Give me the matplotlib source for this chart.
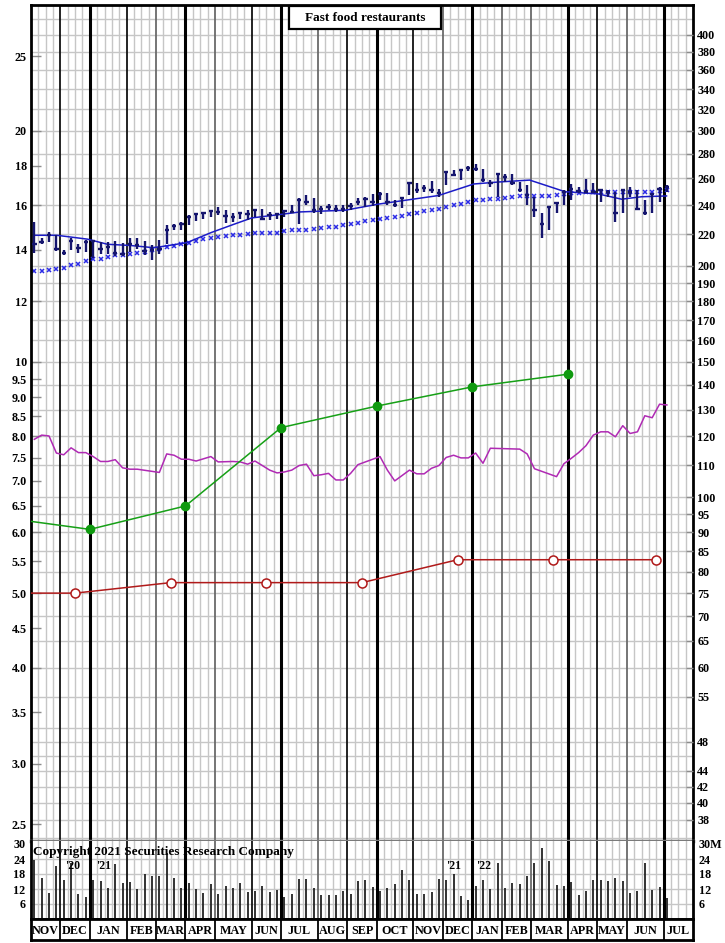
import numpy as np
import matplotlib
matplotlib.use("Agg")
import matplotlib.pyplot as plt
from matplotlib.patches import Rectangle
from matplotlib.ticker import NullLocator

plt.rcParams['font.family'] = ['Liberation Serif', 'DejaVu Serif']
plt.rcParams['font.weight'] = 'bold'

# weekly price bars (left scale)
price_high = [15.22, 14.51, 14.76, 14.62, 13.98, 14.48, 14.26, 14.41, 14.41, 14.33,
              14.33, 14.37, 14.28, 14.48, 14.48, 14.37, 14.19, 14.41, 15.07, 15.14,
              15.22, 15.53, 15.63, 15.68, 15.79, 15.89, 15.79, 15.61, 15.68, 15.76,
              15.84, 15.84, 15.68, 15.61, 15.76, 16.00, 16.33, 16.49, 16.33, 15.95,
              16.08, 16.00, 16.00, 16.11, 16.33, 16.39, 16.57, 16.66, 16.62, 16.24,
              16.39, 17.16, 17.08, 16.99, 17.19, 16.82, 17.72, 17.80, 17.83, 18.01,
              18.10, 17.81, 17.25, 17.60, 17.57, 17.57, 17.16, 16.99, 16.41, 15.61,
              15.95, 16.16, 16.77, 17.04, 16.90, 17.33, 17.10, 16.82, 16.74, 16.66,
              16.82, 16.90, 16.74, 16.24, 16.61, 16.90, 16.99]
price_low = [13.85, 14.25, 14.33, 13.95, 13.77, 13.98, 13.86, 13.91, 13.65, 13.84,
             13.84, 13.73, 13.73, 13.91, 14.05, 13.77, 13.57, 13.84, 14.26, 14.84,
             14.87, 15.07, 15.26, 15.37, 15.45, 15.53, 15.17, 15.22, 15.37, 15.30,
             15.45, 15.30, 15.30, 15.33, 15.45, 15.63, 15.14, 16.00, 15.61, 15.57,
             15.76, 15.68, 15.68, 15.76, 16.00, 15.90, 15.95, 16.24, 16.00, 15.90,
             15.86, 16.49, 16.62, 16.66, 16.58, 16.41, 16.99, 17.44, 17.25, 17.74,
             17.73, 17.16, 16.90, 16.40, 17.16, 16.99, 16.66, 16.00, 15.45, 14.52,
             14.84, 15.61, 16.00, 16.24, 16.58, 16.58, 16.58, 16.16, 16.41, 15.22,
             15.61, 16.41, 15.84, 15.53, 15.61, 16.16, 16.66]
price_close = [14.23, 14.32, 14.65, 14.05, 13.88, 14.36, 14.09, 14.33, 14.36, 14.02,
               14.12, 13.86, 13.84, 14.26, 14.19, 13.96, 13.98, 14.05, 14.84, 15.04,
               15.12, 15.45, 15.57, 15.63, 15.73, 15.68, 15.48, 15.45, 15.63, 15.57,
               15.76, 15.33, 15.53, 15.57, 15.71, 15.68, 16.24, 16.16, 15.76, 15.84,
               15.92, 15.84, 15.84, 15.95, 16.16, 16.29, 16.15, 16.54, 16.16, 16.00,
               16.37, 17.08, 16.74, 16.87, 16.74, 16.61, 17.69, 17.51, 17.77, 17.87,
               17.83, 17.25, 17.10, 17.57, 17.42, 17.08, 16.74, 16.49, 15.76, 15.13,
               15.92, 16.11, 16.66, 16.82, 16.70, 16.66, 16.66, 16.74, 16.66, 15.63,
               16.74, 16.66, 15.84, 15.61, 16.53, 16.82, 16.90]

# long moving average, one value per week
ma_long = [13.14, 13.14, 13.17, 13.20, 13.27, 13.36, 13.43, 13.53, 13.62, 13.63,
           13.71, 13.77, 13.80, 13.84, 13.88, 13.91, 13.98, 14.05, 14.12, 14.16,
           14.23, 14.30, 14.37, 14.45, 14.52, 14.55, 14.60, 14.62, 14.65, 14.66,
           14.72, 14.72, 14.74, 14.74, 14.80, 14.84, 14.84, 14.87, 14.88, 14.95,
           14.98, 14.99, 15.06, 15.12, 15.17, 15.24, 15.30, 15.33, 15.38, 15.43,
           15.48, 15.57, 15.63, 15.71, 15.76, 15.82, 15.92, 16.00, 16.08, 16.16,
           16.23, 16.24, 16.28, 16.31, 16.36, 16.41, 16.43, 16.45, 16.45, 16.47,
           16.47, 16.49, 16.54, 16.58, 16.61, 16.63, 16.63, 16.63, 16.64, 16.64,
           16.64, 16.64, 16.64, 16.64, 16.64, 16.69, 16.74]

# short moving average (line vertices)
ma_short_week = [0.45, 3.5, 7.7, 10.4, 13.5, 16.5, 17.5, 21.2, 24.5, 27.5, 30.0, 34.1,
                 36.6, 42.7, 47.2, 55.4, 60.2, 63.5, 67.8, 69.9, 72.6, 77.1, 80.3,
                 83.0, 86.4]
ma_short = [14.62, 14.62, 14.45, 14.23, 14.18, 14.09, 14.12, 14.30, 14.74, 15.10, 15.40,
            15.57, 15.68, 15.76, 16.05, 16.47, 17.05, 17.15, 17.25, 16.99, 16.66, 16.55,
            16.29, 16.41, 16.45]

# relative strength line
rs_bar = [0, 1, 2, 3, 4, 5, 6, 7, 8, 9, 10, 11, 12, 13, 14, 17, 18, 19, 20, 21, 22, 24,
          25, 27, 28, 29, 30, 31, 32, 33, 34, 35, 36, 37, 38, 39, 40, 41, 42, 43, 44, 47,
          48, 49, 51, 52, 53, 54, 55, 56, 57, 58, 59, 60, 61, 62, 66, 67, 68, 71, 72, 73,
          74, 75, 76, 77, 78, 79, 80, 81, 82, 83, 84, 85, 86]
rs_value = [7.93, 8.03, 8.01, 7.61, 7.57, 7.73, 7.62, 7.62, 7.53, 7.42, 7.42, 7.46, 7.28,
            7.25, 7.25, 7.18, 7.59, 7.56, 7.47, 7.47, 7.43, 7.53, 7.41, 7.42, 7.41, 7.36,
            7.43, 7.33, 7.23, 7.17, 7.19, 7.23, 7.33, 7.36, 7.11, 7.13, 7.16, 7.02, 7.02,
            7.16, 7.35, 7.53, 7.23, 7.00, 7.23, 7.15, 7.15, 7.27, 7.33, 7.51, 7.56, 7.50,
            7.50, 7.61, 7.38, 7.72, 7.70, 7.59, 7.26, 7.09, 7.37, 7.49, 7.62, 7.78, 8.03,
            8.11, 8.11, 7.99, 8.26, 8.07, 8.11, 8.51, 8.46, 8.81, 8.79]

# earnings and dividends (right scale)
earn_week = [0, 8, 21, 34, 47, 60, 73]
earn_value = [93, 90.8, 97.4, 123.2, 131.4, 139.2, 144.6]
div_week = [0, 6, 19, 32, 45, 58, 71, 85]
div_value = [75, 75, 77.4, 77.4, 77.4, 82.9, 82.9, 82.9]

# weekly volume, millions
volume = [23.7, 16.4, 10.4, 21.1, 15.5, 22.5, 10.0, 8.7, 15.7, 15.1,
          12.4, 22.0, 14.4, 14.7, 12.0, 18.0, 17.3, 17.1, 26.4, 16.4,
          12.4, 14.4, 12.1, 10.4, 14.0, 10.0, 13.3, 12.4, 14.4, 10.8,
          11.3, 13.3, 10.8, 11.7, 8.7, 10.0, 16.1, 16.0, 12.4, 9.5,
          9.5, 9.5, 11.3, 10.0, 15.3, 15.7, 12.7, 11.3, 12.4, 14.0,
          19.7, 15.7, 10.0, 10.0, 10.8, 16.0, 15.7, 18.0, 9.1, 7.7,
          13.1, 15.7, 12.0, 22.4, 12.4, 14.4, 14.0, 17.3, 22.4, 28.4,
          23.3, 13.5, 13.1, 14.8, 9.5, 11.3, 15.5, 15.5, 15.3, 16.4,
          15.3, 10.4, 11.3, 22.4, 11.5, 12.9, 8.4]

months = ['NOV', 'DEC', 'JAN', 'FEB', 'MAR', 'APR', 'MAY', 'JUN', 'JUL', 'AUG', 'SEP',
          'OCT', 'NOV', 'DEC', 'JAN', 'FEB', 'MAR', 'APR', 'MAY', 'JUN', 'JUL']
month_edges = [0, 4, 8, 13, 17, 21, 25, 30, 34, 39, 43, 47, 52, 56, 60, 64, 68, 73, 77,
               81, 86, 90]
quarter_edges = [8, 21, 34, 47, 60, 73, 86]
black_edges = [4, 13, 30, 43, 52, 77]
years = [("'20", 5.6), ("'21", 9.9), ("'21", 57.5), ("'22", 61.5)]

left_ticks = [25, 20, 18, 16, 14, 12, 10, 9.5, 9.0, 8.5, 8.0, 7.5, 7.0, 6.5, 6.0, 5.5,
              5.0, 4.5, 4.0, 3.5, 3.0, 2.5]
left_labels = ['25', '20', '18', '16', '14', '12', '10', '9.5', '9.0', '8.5', '8.0',
               '7.5', '7.0', '6.5', '6.0', '5.5', '5.0', '4.5', '4.0', '3.5', '3.0', '2.5']
right_ticks = [400, 380, 360, 340, 320, 300, 280, 260, 240, 220, 200, 190, 180, 170,
               160, 150, 140, 130, 120, 110, 100, 95, 90, 85, 80, 75, 70, 65, 60, 55,
               48, 44, 42, 40, 38]
vol_ticks = [6, 12, 18, 24, 30]
vol_left = ['6', '12', '18', '24', '30']
vol_right = ['6', '12', '18', '24', '30M']

GRID = '#c6c6c6'
NAVY = '#15156e'

W, H = 725, 943
fig = plt.figure(figsize=(W / 100, H / 100), dpi=100)


def px_rect(x0, y0, x1, y1):
    return [x0 / W, 1 - y1 / H, (x1 - x0) / W, (y1 - y0) / H]


ax = fig.add_axes(px_rect(31, 5, 693, 841))
vax = fig.add_axes(px_rect(31, 841, 693, 919))
max_ = fig.add_axes(px_rect(31, 919, 693, 940))

ymin, ymax = 2.378, 29.16
bar_x = np.arange(len(price_high)) + 0.45


def vertical_grid(a):
    for w in range(1, 90):
        if w not in month_edges:
            a.axvline(w, color=GRID, lw=1, zorder=0.5)
    for e in month_edges[1:-1]:
        if e in quarter_edges:
            a.axvline(e, color='black', lw=2.2, zorder=0.8)
        elif e in black_edges:
            a.axvline(e, color='#111111', lw=1.3, zorder=0.8)
        else:
            a.axvline(e, color='#6a6a6a', lw=1.3, zorder=0.8)


# ---- main price panel
ax.set_yscale('log')
ax.set_ylim(ymin, ymax)
ax.set_xlim(0, 90)
grid_right = list(range(200, 421, 20)) + list(range(100, 200, 10)) + \
    list(range(55, 100, 5)) + [50, 48, 46, 44, 42, 40, 38, 36]
for v in grid_right:
    ax.axhline(v / 15, color=GRID, lw=1, zorder=0.5)
vertical_grid(ax)

ax.plot(bar_x, ma_long, ls='none', marker='x', ms=3.2, mew=1.1, color='#2b2be6', zorder=2)
ax.plot(ma_short_week, ma_short, color='#1c1cc8', lw=1.1, zorder=2.5)
ax.vlines(bar_x, price_low, price_high, color=NAVY, lw=1.7, zorder=3)
ax.hlines(price_close, bar_x - 0.3, bar_x + 0.3, color=NAVY, lw=1.7, zorder=3)
ax.plot(np.array(rs_bar) + 0.45, rs_value, color='#b02ab4', lw=1.1, zorder=2.5)

ax.set_xticks([])
ax.set_yticks(left_ticks, left_labels)
ax.yaxis.set_minor_locator(NullLocator())
ax.tick_params(axis='y', direction='in', length=7, width=1, color='#8c8c8c',
               labelsize=8.7, pad=3)
for s in ['left', 'right', 'top']:
    ax.spines[s].set_linewidth(2)
    ax.spines[s].set_color('black')
ax.spines['bottom'].set_linewidth(2.5)
ax.spines['bottom'].set_color('#7a7a7a')

ax2 = ax.twinx()
ax2.set_yscale('log')
ax2.set_ylim(ymin * 15, ymax * 15)
ax2.plot(earn_week, earn_value, color='#16a016', lw=1.1, zorder=3)
ax2.plot(earn_week[1:], earn_value[1:], 'o', color='#0f9a0f', ms=6, zorder=4)
ax2.plot(div_week, div_value, color='#b01a1a', lw=1.1, zorder=3)
ax2.plot(div_week[1:], div_value[1:], 'o', mfc='white', mec='#b01a1a', mew=1.1,
         ms=6.5, zorder=4)
ax2.set_yticks(right_ticks, [str(v) for v in right_ticks])
ax2.yaxis.set_minor_locator(NullLocator())
ax2.tick_params(axis='y', direction='in', length=5, width=1, color='#8c8c8c',
                labelsize=8.7, pad=3)
for s in ax2.spines.values():
    s.set_visible(False)

ax2.add_patch(Rectangle((0.3897, 0.9713), 0.2296, 0.0275, transform=ax2.transAxes,
                        fc='white', ec='black', lw=1.6, zorder=10))
ax2.text(0.5045, 0.985, 'Fast food restaurants', transform=ax2.transAxes,
         ha='center', va='center', fontsize=9.5, zorder=11)

# ---- volume panel
vax.set_xlim(0, 90)
vax.set_ylim(0, 31.2)
for v in vol_ticks[:-1]:
    vax.axhline(v, color=GRID, lw=1, zorder=0.5)
vertical_grid(vax)
vax.vlines(bar_x, 0, volume, color='#222222', lw=1.3, zorder=3)
vax.text(0.25, 26.8, 'Copyright 2021 Securities Research Company', fontsize=9.5,
         ha='left', va='center', zorder=4)
for lab, w in years:
    vax.text(w, 21.3, lab, fontsize=8.5, ha='center', va='center', zorder=4)
vax.set_xticks([])
vax.set_yticks(vol_ticks, vol_left)
vax.tick_params(axis='y', length=0, labelsize=8.7, pad=4)
for s in ['left', 'right', 'bottom']:
    vax.spines[s].set_linewidth(2)
vax.spines['top'].set_visible(False)
vax2 = vax.twinx()
vax2.set_ylim(0, 31.2)
vax2.set_yticks(vol_ticks, vol_right)
vax2.tick_params(axis='y', length=0, labelsize=8.7, pad=4)
for s in vax2.spines.values():
    s.set_visible(False)

# ---- month labels row
max_.set_xlim(0, 90)
max_.set_ylim(0, 1)
for e in month_edges[1:-1]:
    max_.axvline(e, color='black', lw=1.3)
for i, m in enumerate(months):
    mid = (month_edges[i] + month_edges[i + 1]) / 2
    max_.text(mid, 0.45, m, ha='center', va='center', fontsize=8.7)
max_.set_xticks([])
max_.set_yticks([])
for s in max_.spines.values():
    s.set_linewidth(2)
    s.set_color('black')

fig.savefig('out.png', dpi=100, facecolor='white')
